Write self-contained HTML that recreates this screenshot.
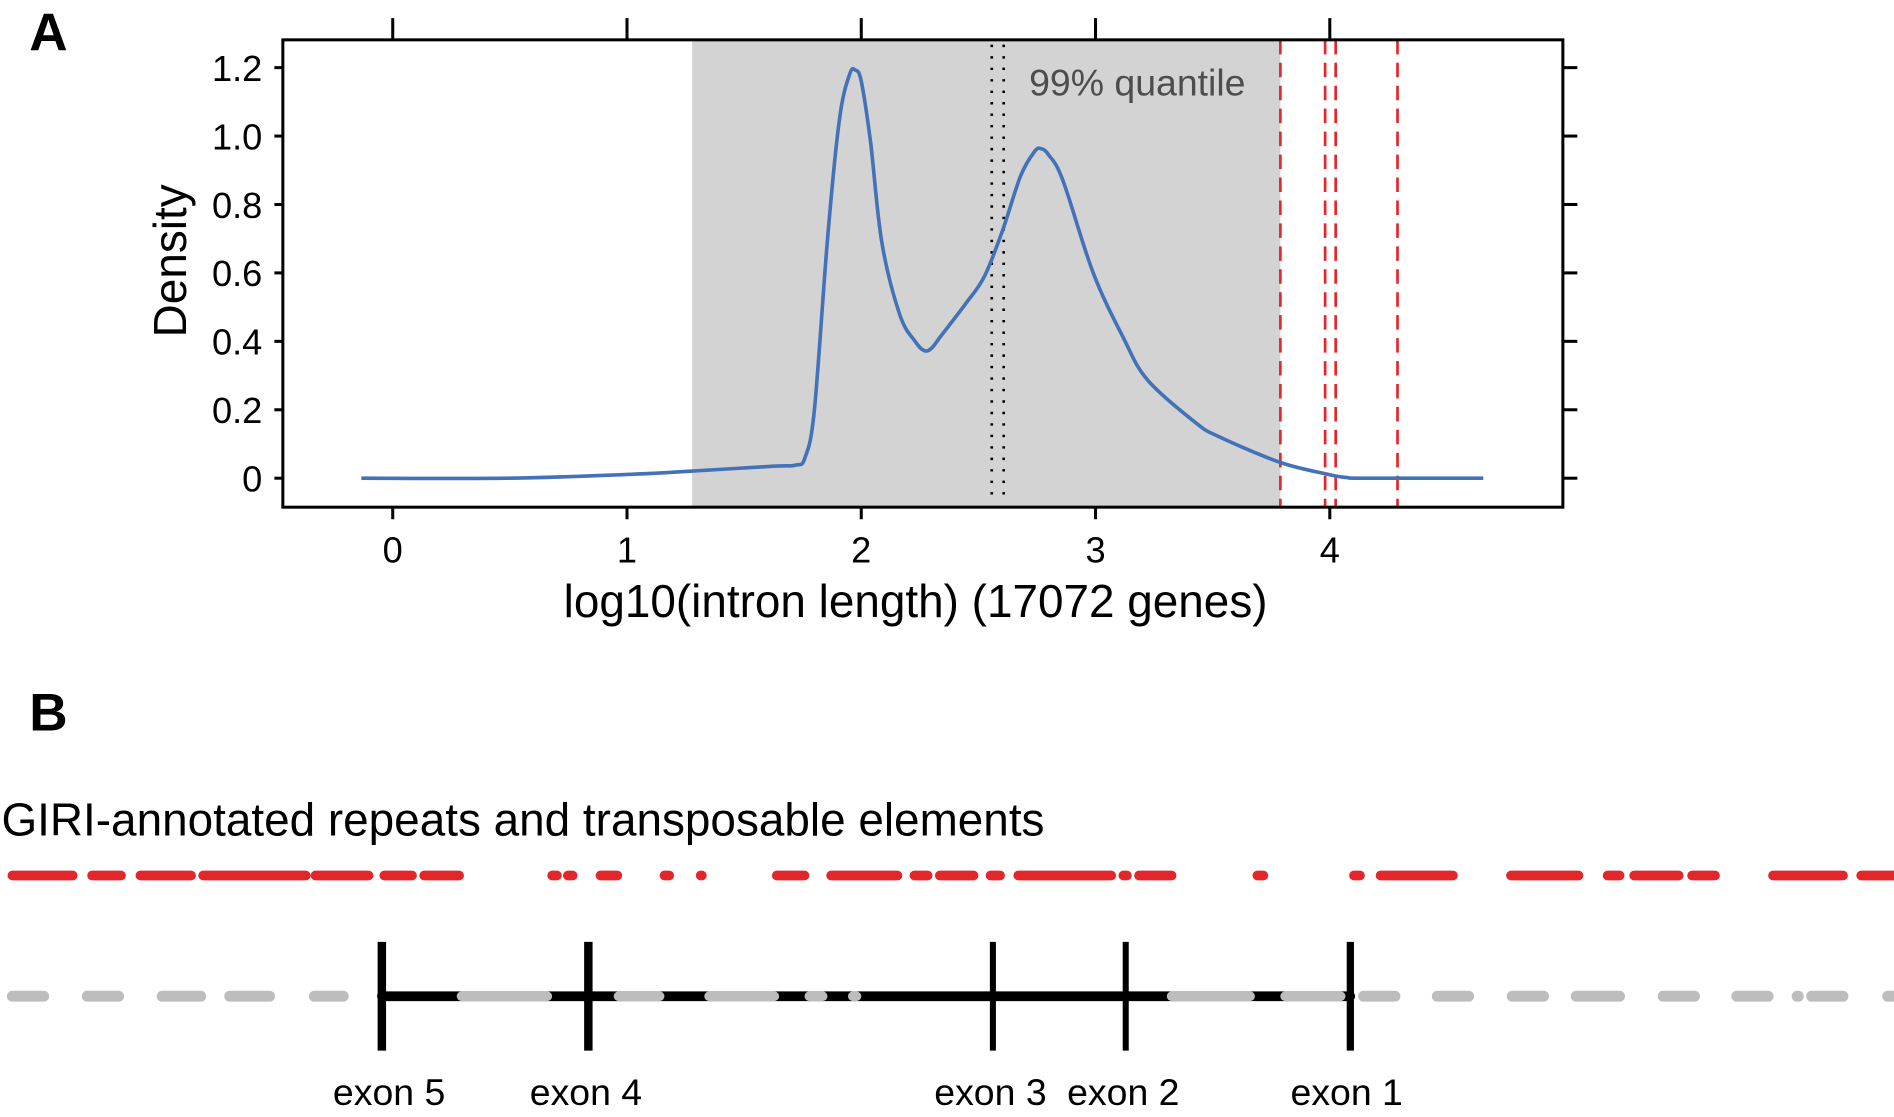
<!DOCTYPE html>
<html><head><meta charset="utf-8"><style>
html,body{margin:0;padding:0;background:#fff;width:1894px;height:1117px;overflow:hidden}
svg{display:block;font-family:"Liberation Sans",Arial,sans-serif}
</style></head><body>
<svg id="fig" width="1894" height="1117" viewBox="0 0 1568 925">
<text x="24" y="42" font-size="44" font-weight="bold">A</text>
<text x="24" y="605" font-size="44" font-weight="bold">B</text>
<g id="chartA"></g>
<g id="panelB"></g>
</svg>
<script>
// ---- Panel A data ----
const xTicks = [0, 1, 2, 3, 4];
const yTicks = [0, 0.2, 0.4, 0.6, 0.8, 1.0, 1.2];
const yTickLabels = ["0", "0.2", "0.4", "0.6", "0.8", "1.0", "1.2"];
const densityX = [-0.134,0.49,1.0,1.278,1.624,1.72,1.76,1.80,1.856,1.907,1.95,1.974,2.00,2.04,2.088,2.165,2.23,2.268,2.30,2.345,2.448,2.526,2.603,2.680,2.74,2.768,2.80,2.861,2.990,3.119,3.222,3.428,3.531,3.789,3.995,4.07,4.15,4.655];
const densityY = [0,0,0.011,0.021,0.035,0.038,0.06,0.20,0.70,1.05,1.18,1.193,1.16,0.98,0.688,0.477,0.40,0.373,0.38,0.42,0.512,0.590,0.724,0.883,0.955,0.963,0.945,0.87,0.600,0.410,0.287,0.162,0.120,0.046,0.011,0.002,0,0];
const shadeRange = [1.278, 3.789];
const dottedLines = [2.557, 2.608];
const redLines = [3.789, 3.98, 4.025, 4.289];

const NS = "http://www.w3.org/2000/svg";
function mk(tag, attrs, parent){const e=document.createElementNS(NS,tag);for(const k in attrs)e.setAttribute(k,attrs[k]);parent.appendChild(e);return e;}
const L=234,R=1294,T=33,B=420;
const sx = v => 325 + v*194;
const sy = v => 396 - v*283.33;
const gA = document.getElementById('chartA');

let r = mk('rect',{x:sx(shadeRange[0]),y:T,width:sx(shadeRange[1])-sx(shadeRange[0]),height:B-T,fill:'#d3d3d3'},gA);


dottedLines.forEach(v=>{
  const l=mk('line',{x1:sx(v),x2:sx(v),y1:T+4,y2:B-4,stroke:'#000','stroke-width':2.2,'stroke-dasharray':'2 7.5'},gA);
  
  
});
redLines.forEach(v=>{
  const l=mk('line',{x1:sx(v),x2:sx(v),y1:T,y2:B,stroke:'#e3262a','stroke-width':2.2,'stroke-dasharray':'12 7'},gA);
  
  
});
const P=densityX.map((x,i)=>[sx(x),sy(densityY[i])]);
let d='M'+P[0][0].toFixed(1)+' '+P[0][1].toFixed(1);
for(let i=0;i<P.length-1;i++){
  const p0=P[Math.max(0,i-1)],p1=P[i],p2=P[i+1],p3=P[Math.min(P.length-1,i+2)];
  const c1=[p1[0]+(p2[0]-p0[0])/6,p1[1]+(p2[1]-p0[1])/6];
  const c2=[p2[0]-(p3[0]-p1[0])/6,p2[1]-(p3[1]-p1[1])/6];
  d+=' C'+c1[0].toFixed(1)+' '+c1[1].toFixed(1)+' '+c2[0].toFixed(1)+' '+c2[1].toFixed(1)+' '+p2[0].toFixed(1)+' '+p2[1].toFixed(1);
}
let p=mk('path',{d:d,fill:'none',stroke:'#4472b8','stroke-width':3,'stroke-linejoin':'round'},gA);


let fr=mk('rect',{x:L,y:T,width:R-L,height:B-T,fill:'none',stroke:'#000','stroke-width':2.5},gA);


xTicks.forEach(v=>{
  mk('line',{x1:sx(v),x2:sx(v),y1:B,y2:B+10,stroke:'#000','stroke-width':2.5},gA);
  mk('line',{x1:sx(v),x2:sx(v),y1:T,y2:T-18,stroke:'#000','stroke-width':2.5},gA);
  const t=mk('text',{x:sx(v),y:466,'font-size':30,'text-anchor':'middle'},gA);
  t.textContent=v;
  
  
});
yTicks.forEach((v,i)=>{
  mk('line',{x1:L,x2:L-7,y1:sy(v),y2:sy(v),stroke:'#000','stroke-width':2.5},gA);
  mk('line',{x1:R,x2:R+12,y1:sy(v),y2:sy(v),stroke:'#000','stroke-width':2.5},gA);
  const t=mk('text',{x:217,y:sy(v)+11,'font-size':30,'text-anchor':'end'},gA);
  t.textContent=yTickLabels[i];
  
  
});
let q=mk('text',{x:852,y:79,'font-size':31,fill:'#4d4d4d'},gA);
q.textContent='99% quantile';


let xt=mk('text',{x:758,y:511,'font-size':38,'text-anchor':'middle'},gA);
xt.textContent='log10(intron length) (17072 genes)';


let yt=mk('text',{x:0,y:0,'font-size':38,'text-anchor':'middle',transform:'translate(154,216) rotate(-90)'},gA);
yt.textContent='Density';



// ---- Panel B ----
const gB=document.getElementById('panelB');
const repeatSegs=[[10,60],[76,100],[116,158],[168,253],[261,305],[318,341],[351,380],[457,461],[470,474],[497,511],[550,554],[580,581],[643,666],[688,743],[757,768],[778,806],[820,828],[843,920],[930,933],[943,970],[1041,1046],[1121,1126],[1143,1203],[1251,1307],[1331,1341],[1353,1390],[1401,1420],[1468,1526],[1541,1568]];
const grayOuter=[[10,36],[72,98],[134,166],[190,223],[260,284],[1129,1155],[1190,1216],[1252,1278],[1305,1341],[1377,1403],[1438,1464],[1488,1489],[1500,1526],[1563,1568]];
const grayInner=[[382,453],[512,546],[587,641],[670,681],[706,709],[970,1035],[1064,1110]];
const exons=[[316,7,'exon 5',322],[487,7,'exon 4',485],[822,5,'exon 3',820],[932,5,'exon 2',930],[1118,6,'exon 1',1115]];
let tt=mk('text',{x:1,y:692,'font-size':38},gB);
tt.textContent='GIRI-annotated repeats and transposable elements';


repeatSegs.forEach(s=>{
  const l=mk('line',{x1:s[0],x2:s[1],y1:725,y2:725,stroke:'#e3262a','stroke-width':8,'stroke-linecap':'round'},gB);
  
  
});
grayOuter.forEach(s=>{
  const l=mk('line',{x1:s[0],x2:s[1],y1:825,y2:825,stroke:'#bdbdbd','stroke-width':9,'stroke-linecap':'round'},gB);
  
  
});
let gl=mk('line',{x1:316,x2:1118,y1:825,y2:825,stroke:'#000','stroke-width':8,'stroke-linecap':'round'},gB);


grayInner.forEach(s=>{
  const l=mk('line',{x1:s[0],x2:s[1],y1:825,y2:825,stroke:'#bdbdbd','stroke-width':8,'stroke-linecap':'round'},gB);
  
  
});
exons.forEach(e=>{
  const l=mk('line',{x1:e[0],x2:e[0],y1:780,y2:870,stroke:'#000','stroke-width':e[1]},gB);
  
  
  const t=mk('text',{x:e[3],y:915,'font-size':31,'text-anchor':'middle'},gB);
  t.textContent=e[2];
  
  
});
</script>
</body></html>
